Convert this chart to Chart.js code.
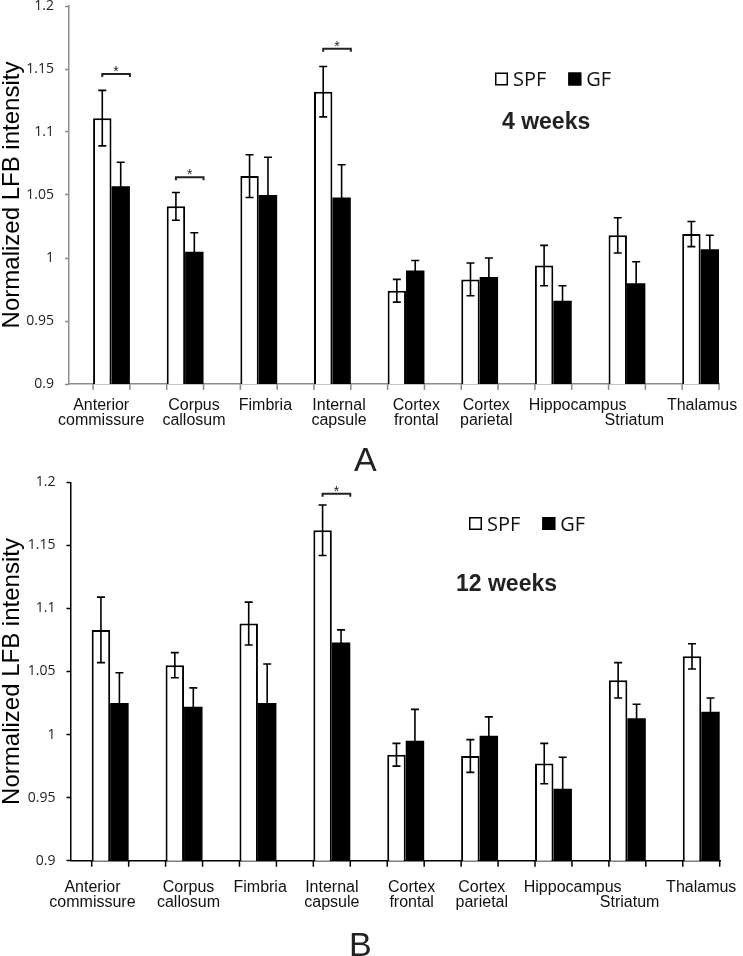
<!DOCTYPE html>
<html>
<head>
<meta charset="utf-8">
<script src="https://cdn.jsdelivr.net/npm/chart.js@4.4.1/dist/chart.umd.min.js"></script>
<style>
  html, body { margin: 0; padding: 0; background: #fff; }
  #page { position: relative; width: 743px; height: 956px; overflow: hidden; }
  canvas { position: absolute; left: 0; }
  #cA { top: 0; }
  #cB { top: 470px; }
  .panel { position: absolute; font-family: "Liberation Sans", Arial, sans-serif; font-size: 34px; line-height: 1; color: #222; }
</style>
</head>
<body>
<div id="page">
  <canvas id="cA" width="743" height="470"></canvas>
  <canvas id="cB" width="743" height="486"></canvas>
  <div class="panel" style="left:354px;top:442px">A</div>
  <div class="panel" style="left:349px;top:927px">B</div>
</div>
<script>
// categories as they appear under the axis (Striatum sits on the second line)
const categories = [
  ['Anterior', 'commissure'], ['Corpus', 'callosum'], ['Fimbria'], ['Internal', 'capsule'],
  ['Cortex', 'frontal'], ['Cortex', 'parietal'], ['Hippocampus'], ['', 'Striatum'], ['Thalamus']
];
const seriesNames = ['SPF', 'GF'];
const yTicks = [0.9, 0.95, 1, 1.05, 1.1, 1.15, 1.2];

// 4 weeks
const spf4    = [1.111, 1.041, 1.065, 1.132, 0.974, 0.983, 0.994, 1.018, 1.019];
const spf4Err = [0.022, 0.011, 0.017, 0.020, 0.009, 0.013, 0.016, 0.014, 0.010];
const gf4     = [1.057, 1.005, 1.050, 1.048, 0.990, 0.985, 0.966, 0.980, 1.007];
const gf4Err  = [0.019, 0.015, 0.030, 0.026, 0.008, 0.015, 0.012, 0.017, 0.011];
const sig4      = [0, 1, 3];
const sig4Level = [1.146, 1.064, 1.166];

// 12 weeks
const spf12    = [1.083, 1.055, 1.088, 1.162, 0.984, 0.983, 0.977, 1.043, 1.062];
const spf12Err = [0.026, 0.010, 0.017, 0.020, 0.009, 0.013, 0.016, 0.014, 0.010];
const gf12     = [1.025, 1.022, 1.025, 1.073, 0.995, 0.999, 0.957, 1.013, 1.018];
const gf12Err  = [0.024, 0.015, 0.031, 0.010, 0.025, 0.015, 0.025, 0.011, 0.011];
const sig12      = [3];
const sig12Level = [1.191];

// label shift from the group centre, in categories (Excel spreads them a bit)
const labelShiftA = [-0.14, 0.12, 0.09, 0.09, 0.14, 0.09, 0.33, 0.10, 0.02];
const labelShiftB = [-0.24, 0.06, 0.03, 0.00, 0.08, 0.03, 0.26, 0.03, 0.00];

// error bars, group tick marks, significance brackets, legend, subtitle
const decor = {
  id: 'decor',
  afterDatasetsDraw(chart, args, opts) {
    const ctx = chart.ctx;
    const y = chart.scales.y;
    const m0 = chart.getDatasetMeta(0), m1 = chart.getDatasetMeta(1);
    ctx.save();

    ctx.strokeStyle = '#000';
    ctx.lineWidth = 1.6;
    chart.data.datasets.forEach((ds, di) => {
      chart.getDatasetMeta(di).data.forEach((bar, i) => {
        const v = ds.data[i].y, e = ds.errors[i];
        const top = y.getPixelForValue(v + e), bot = y.getPixelForValue(v - e);
        ctx.beginPath();
        ctx.moveTo(bar.x, top); ctx.lineTo(bar.x, bot);
        ctx.moveTo(bar.x - 4, top); ctx.lineTo(bar.x + 4, top);
        ctx.moveTo(bar.x - 4, bot); ctx.lineTo(bar.x + 4, bot);
        ctx.stroke();
      });
    });

    const base = chart.chartArea.bottom;
    ctx.strokeStyle = opts.axisColor;
    ctx.lineWidth = 1.5;
    ctx.beginPath();
    m0.data.forEach((bar, i) => {
      const l = bar.x - bar.width / 2;
      const r = m1.data[i].x + m1.data[i].width / 2;
      ctx.moveTo(l, base); ctx.lineTo(l, base + 6);
      ctx.moveTo(r, base); ctx.lineTo(r, base + 6);
    });
    ctx.stroke();

    ctx.strokeStyle = '#222';
    ctx.fillStyle = '#222';
    ctx.lineWidth = 2;
    ctx.textAlign = 'center';
    ctx.textBaseline = 'alphabetic';
    ctx.font = '14px "Liberation Sans", Arial';
    opts.sig.forEach((c, k) => {
      const x0 = m0.data[c].x;
      const x1 = m1.data[c].x + m1.data[c].width / 2;
      const yy = y.getPixelForValue(opts.sigLevel[k]);
      ctx.beginPath();
      ctx.moveTo(x0, yy + 3); ctx.lineTo(x0, yy); ctx.lineTo(x1, yy); ctx.lineTo(x1, yy + 3);
      ctx.stroke();
      ctx.fillText('*', (x0 + x1) / 2, yy + 2);
    });

    // legend
    let lx = opts.legend.x;
    const ly = opts.legend.y;
    ctx.textAlign = 'left';
    ctx.font = '20px "Open Sans"';
    chart.data.datasets.forEach(ds => {
      ctx.fillStyle = ds.backgroundColor;
      ctx.fillRect(lx, ly, 13, 13);
      ctx.strokeStyle = '#000';
      ctx.lineWidth = 1.5;
      ctx.strokeRect(lx + 0.75, ly + 0.75, 11.5, 11.5);
      ctx.fillStyle = '#111';
      ctx.fillText(ds.label, lx + 18, ly + 13.5);
      lx += 18 + ctx.measureText(ds.label).width + 22;
    });

    ctx.font = 'bold 23px "Liberation Sans", Arial';
    ctx.fillStyle = '#222';
    ctx.fillText(opts.subtitle.text, opts.subtitle.x, opts.subtitle.y);
    ctx.restore();
  }
};

function makeChart(id, spf, spfErr, gf, gfErr, cfg) {
  return new Chart(document.getElementById(id), {
    type: 'bar',
    data: {
      datasets: [
        { label: seriesNames[0], data: spf.map((v, i) => ({ x: i, y: v })), errors: spfErr,
          backgroundColor: '#fff', borderColor: '#000', borderWidth: 2 },
        { label: seriesNames[1], data: gf.map((v, i) => ({ x: i, y: v })), errors: gfErr,
          backgroundColor: '#000', borderColor: '#000', borderWidth: 0 }
      ]
    },
    options: {
      responsive: false,
      animation: false,
      layout: { autoPadding: false, padding: { top: cfg.top, right: cfg.right, left: 0, bottom: 0 } },
      datasets: { bar: { categoryPercentage: 0.5, barPercentage: 1 } },
      plugins: {
        legend: { display: false },
        tooltip: { enabled: false },
        decor: {
          axisColor: cfg.axisColor,
          sig: cfg.sig, sigLevel: cfg.sigLevel,
          legend: cfg.legend, subtitle: cfg.subtitle
        }
      },
      scales: {
        x: {
          type: 'linear', min: cfg.xMin, max: cfg.xMax, offset: false,
          afterBuildTicks: s => { s.ticks = categories.map((_, i) => ({ value: i })); },
          afterFit: s => { s.height = 0; s.paddingLeft = 0; s.paddingRight = 0; },
          grid: { display: false },
          border: { color: cfg.axisColor, width: 1.5 },
          ticks: { display: false }
        },
        xLabels: {
          type: 'linear', position: 'bottom', min: cfg.xMin, max: cfg.xMax, offset: false,
          afterBuildTicks: s => { s.ticks = categories.map((_, i) => ({ value: i + cfg.labelShift[i] })); },
          afterFit: s => { s.height = cfg.xHeight; s.paddingLeft = 0; s.paddingRight = 0; },
          grid: { display: true, drawOnChartArea: false, drawTicks: true, tickLength: cfg.labelGap, color: 'rgba(0,0,0,0)' },
          border: { display: false },
          ticks: {
            autoSkip: false, maxRotation: 0, minRotation: 0, padding: 0, color: '#111',
            font: { family: '"Liberation Sans", Arial', size: 16, lineHeight: 0.94 },
            callback: (v, i) => categories[i]
          }
        },
        y: {
          min: 0.9, max: 1.2,
          afterBuildTicks: s => { s.ticks = yTicks.map(v => ({ value: v })); },
          afterFit: s => { s.width = cfg.left; s.paddingTop = 0; s.paddingBottom = 0; },
          grid: { display: true, drawOnChartArea: false, drawTicks: true, tickLength: 4, tickColor: cfg.axisColor, tickWidth: 1.5 },
          border: { color: cfg.axisColor, width: 1.5 },
          ticks: {
            padding: 11, color: '#222',
            font: { family: '"Open Sans"', size: 14 },
            callback: v => String(Number(v.toFixed(2)))
          },
          title: {
            display: true, text: 'Normalized LFB intensity', color: '#000', padding: 0,
            font: { family: '"Liberation Sans", Arial', size: 24, lineHeight: 1 }
          }
        }
      }
    },
    plugins: [decor]
  });
}

makeChart('cA', spf4, spf4Err, gf4, gf4Err, {
  top: 6, right: 24, left: 69, xHeight: 86, labelGap: 14.5,
  xMin: -0.577, xMax: 8.25, axisColor: '#8c8c8c', labelShift: labelShiftA,
  sig: sig4, sigLevel: sig4Level,
  legend: { x: 495, y: 72.5 },
  subtitle: { text: '4 weeks', x: 502, y: 129 }
});

makeChart('cB', spf12, spf12Err, gf12, gf12Err, {
  top: 12.3, right: 23, left: 70.5, xHeight: 95.3, labelGap: 19,
  xMin: -0.537, xMax: 8.254, axisColor: '#000', labelShift: labelShiftB,
  sig: sig12, sigLevel: sig12Level,
  legend: { x: 469, y: 47 },
  subtitle: { text: '12 weeks', x: 456, y: 120.7 }
});
</script>
</body>
</html>
